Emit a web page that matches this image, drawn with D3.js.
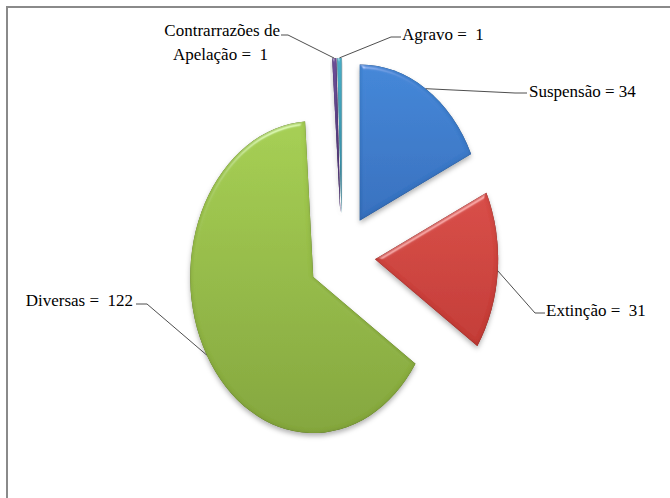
<!DOCTYPE html>
<html>
<head>
<meta charset="utf-8">
<script src="https://cdn.jsdelivr.net/npm/d3@7"></script>
<style>
  html, body { margin: 0; padding: 0; background: #fff; }
</style>
</head>
<body>
<svg id="chart" width="670" height="498"></svg>
<script>
// ---- data ----
const categories = ["Suspensão", "Extinção", "Diversas", "Contrarrazões de Apelação", "Agravo"];
const values = [34, 31, 122, 1, 1];
const labelLines = [
  ["Suspensão = 34"],
  ["Extinção =  31"],
  ["Diversas =  122"],
  ["Contrarrazões de", "Apelação =  1"],
  ["Agravo =  1"]
];

// ---- styles / layout ----
const colorsTop = ["#4387d8", "#d84d47", "#a6cf53", "#72529f", "#4fb8d2"];
const colorsBot = ["#3770be", "#c33b36", "#84a63d", "#583a85", "#3596b2"];
// label layout: elbow point, end point, text anchor position, alignment
const labelLayout = [
  { elbow: [515, 93], end: [527, 93], text: [529, 97], anchor: "start" },
  { elbow: [535, 313], end: [545, 313], text: [546, 316], anchor: "start" },
  { elbow: [147, 304], end: [136, 304], text: [133, 306], anchor: "end" },
  { elbow: [288, 35], end: [281, 35], text: [280, 36], anchor: "end" },
  { elbow: [391, 37], end: [401, 37], text: [402, 40], anchor: "start" }
];

const W = 670, H = 498;
const cx = 342, cy = 256;
const R = 156;            // vertical radius
const sx = 123 / 156;     // horizontal squeeze
const explode = 0.27;

const svg = d3.select("#chart");
const defs = svg.append("defs");

// bevel filter
const f = defs.append("filter").attr("id", "bevel")
  .attr("x", "-20%").attr("y", "-20%").attr("width", "140%").attr("height", "140%");
f.append("feGaussianBlur").attr("in", "SourceAlpha").attr("stdDeviation", 2).attr("result", "blur");
f.append("feComposite").attr("in", "SourceAlpha").attr("in2", "blur").attr("operator", "out").attr("result", "edge");
f.append("feFlood").attr("flood-color", "#000").attr("flood-opacity", 0.3).attr("result", "dark");
f.append("feComposite").attr("in", "dark").attr("in2", "edge").attr("operator", "in").attr("result", "edgeDark");
const spec = f.append("feSpecularLighting").attr("in", "blur").attr("surfaceScale", 3)
  .attr("specularConstant", 0.7).attr("specularExponent", 30)
  .attr("lighting-color", "#ffffff").attr("result", "spec");
spec.append("feDistantLight").attr("azimuth", 250).attr("elevation", 30);
f.append("feComposite").attr("in", "spec").attr("in2", "SourceAlpha").attr("operator", "in").attr("result", "specIn");
f.append("feComposite").attr("in", "SourceGraphic").attr("in2", "specIn").attr("operator", "arithmetic")
  .attr("k1", 0).attr("k2", 1).attr("k3", 0.5).attr("k4", 0).attr("result", "lit");
f.append("feDropShadow").attr("in", "SourceAlpha").attr("dx", 0).attr("dy", 3).attr("stdDeviation", 2.5)
  .attr("flood-color", "#000").attr("flood-opacity", 0.3).attr("result", "shadowRaw");
const m = f.append("feMerge");
m.append("feMergeNode").attr("in", "shadowRaw");
m.append("feMergeNode").attr("in", "lit");
m.append("feMergeNode").attr("in", "edgeDark");

// gradients
values.forEach((v, i) => {
  const g = defs.append("linearGradient").attr("id", "grad" + i)
    .attr("x1", 0).attr("y1", 0).attr("x2", 0).attr("y2", 1);
  g.append("stop").attr("offset", "0%").attr("stop-color", colorsTop[i]);
  g.append("stop").attr("offset", "100%").attr("stop-color", colorsBot[i]);
});

// frame
svg.append("path")
  .attr("d", `M7,${H + 5} V7 H${W + 5}`)
  .attr("fill", "none").attr("stroke", "#8a8a8a").attr("stroke-width", 2);

const pie = d3.pie().sort(null).value(d => d).startAngle(0).endAngle(2 * Math.PI);
const arcs = pie(values);
const arc = d3.arc().innerRadius(0).outerRadius(R);

function toScreen(x, y) { return [cx + x * sx, cy + y]; }

arcs.forEach((a, i) => {
  const mid = (a.startAngle + a.endAngle) / 2;
  const ox = explode * R * Math.sin(mid), oy = -explode * R * Math.cos(mid);
  svg.append("g").attr("filter", "url(#bevel)")
    .append("path")
    .attr("d", arc(a))
    .attr("transform", `translate(${cx},${cy}) scale(${sx},1) translate(${ox},${oy})`)
    .attr("fill", `url(#grad${i})`);
});

// leader lines and labels
arcs.forEach((a, i) => {
  const mid = (a.startAngle + a.endAngle) / 2;
  const ox = explode * R * Math.sin(mid), oy = -explode * R * Math.cos(mid);
  const p = toScreen(ox + R * Math.sin(mid), oy - R * Math.cos(mid));
  const L = labelLayout[i];
  svg.append("polyline")
    .attr("points", [p, L.elbow, L.end].map(q => q.join(",")).join(" "))
    .attr("fill", "none").attr("stroke", "#3a3a3a").attr("stroke-width", 0.9);
  const t = svg.append("text")
    .attr("x", L.text[0]).attr("y", L.text[1])
    .attr("text-anchor", L.anchor)
    .attr("font-size", 17)
    .attr("font-family", "Liberation Serif")
    .attr("fill", "#000")
    .style("font-family", '"Liberation Serif"')
    .style("white-space", "pre");
  const lines = labelLines[i];
  if (lines.length === 1) {
    t.text(lines[0]);
  } else {
    t.append("tspan").attr("x", L.text[0]).attr("dy", 0).text(lines[0]);
    t.append("tspan").attr("x", L.text[0] - 12).attr("dy", 24).text(lines[1]);
  }
});
</script>
</body>
</html>
